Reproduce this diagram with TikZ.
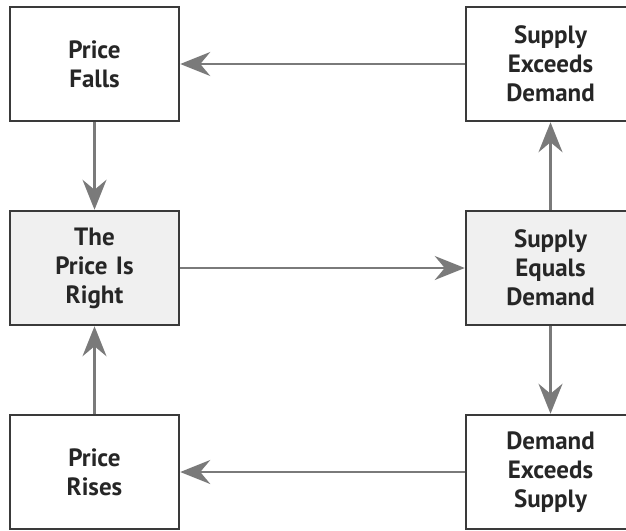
\documentclass[tikz,border=0pt]{standalone}
\usepackage{fontspec}
\setsansfont{PT Sans}
\usetikzlibrary{arrows.meta, positioning}
\definecolor{boxline}{HTML}{3A3A3A}
\definecolor{boxfill}{HTML}{F0F0F0}
\definecolor{arrowgray}{HTML}{7A7A7A}
\tikzstyle{block} = [rectangle, draw=boxline, line width=2.5pt, text centered, minimum height=114pt, minimum width=169pt, text width=150pt, align=center, text=black!85, font=\sffamily\bfseries\fontsize{25}{29}\selectfont]
\tikzstyle{arrow} = [line width=2.5pt, draw=arrowgray, -{Stealth[length=30pt, width=24pt, inset=10pt]}]

\begin{document}
\begin{tikzpicture}[node distance=87.5pt and 284.5pt]

        \useasboundingbox (0,0) rectangle (626pt,-530pt);

        \node (falls) [block] at (94.5pt,-64pt) {Price\\Falls};
        \node (supplyexceeds) [block, right=of falls] {Supply\\Exceeds\\Demand};
        \node (right) [block, fill=boxfill, below=of falls] {The\\Price Is\\Right};
        \node (equals) [block, fill=boxfill, below=of supplyexceeds] {Supply\\Equals\\Demand};
        \node (rises) [block, below=of right] {Price\\Rises};
        \node (demandexceeds) [block, below=of equals] {Demand\\Exceeds\\Supply};

        % Around the loop
        \draw [arrow] (supplyexceeds.west) -- (falls.east);
        \draw [arrow] (falls.south) -- (right.north);
        \draw [arrow] (right.east) -- (equals.west);
        \draw [arrow] (equals.north) -- (supplyexceeds.south);
        \draw [arrow] (equals.south) -- (demandexceeds.north);
        \draw [arrow] (demandexceeds.west) -- (rises.east);
        \draw [arrow] (rises.north) -- (right.south);

\end{tikzpicture}
\end{document}
